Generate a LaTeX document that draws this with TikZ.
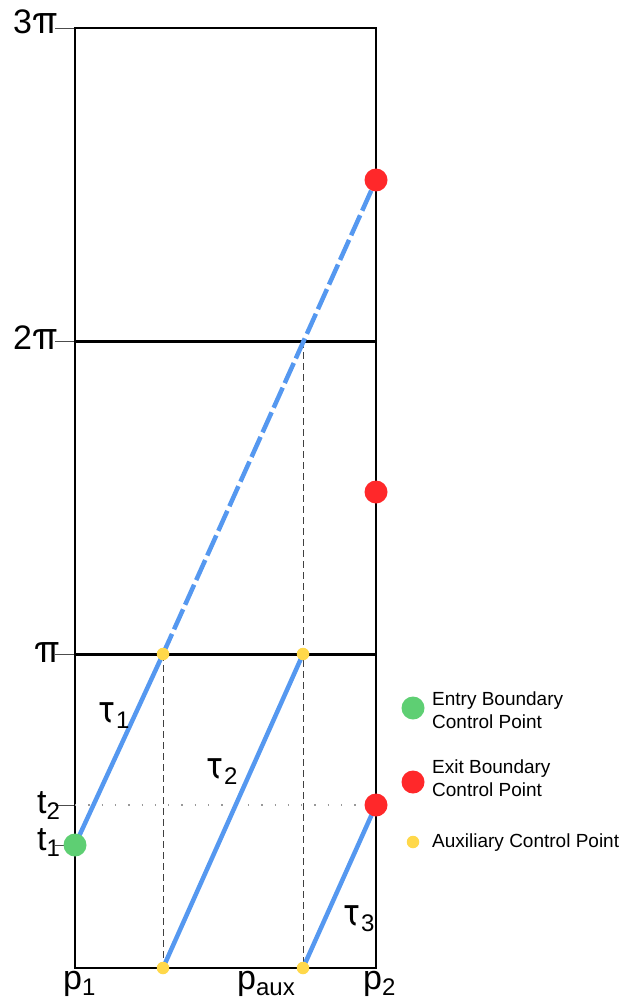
\documentclass[tikz,border=0pt]{standalone}
\usepackage{fontspec}
\setmainfont{Liberation Sans}
\newfontfamily\greekf[Scale=1.12]{TeX Gyre Heros}
\definecolor{trajblue}{RGB}{85,152,240}
\definecolor{greenpt}{RGB}{94,207,115}
\definecolor{redpt}{RGB}{255,40,42}
\definecolor{yellowpt}{RGB}{255,216,74}
\newcommand\bigf{\fontsize{34}{34}\selectfont}
\newcommand\subf{\fontsize{24}{24}\selectfont}
\newcommand\legf{\fontsize{19}{22.5}\selectfont}
\newcommand\withsub[2]{#1\raisebox{-6pt}{\subf #2}}
\tikzset{
  frame/.style={line width=2pt, black},
  level/.style={line width=3pt, black},
  tickline/.style={line width=0.9pt, black!70},
  traj/.style={line width=4.5pt, trajblue},
  trajdash/.style={traj, dash pattern=on 22pt off 5pt},
  guide/.style={line width=0.9pt, black!75, dash pattern=on 7pt off 4pt},
  guidedot/.style={line width=1.3pt, black!40, dash pattern=on 1.3pt off 12pt},
  entrypt/.style={circle, fill=greenpt, minimum size=23pt, inner sep=0pt},
  exitpt/.style={circle, fill=redpt, minimum size=23pt, inner sep=0pt},
  auxpt/.style={circle, fill=yellowpt, minimum size=12.5pt, inner sep=0pt},
  lab/.style={font=\bigf, inner sep=0pt, anchor=base west},
  legtext/.style={font=\legf, inner sep=0pt, align=left},
}
\begin{document}
\begin{tikzpicture}[x=1pt,y=-1pt]
\useasboundingbox (0,0) rectangle (622,1003);
% coordinates
\coordinate (tl) at (75,28);
\coordinate (br) at (376,968);
\coordinate (l2) at (75,341);  \coordinate (r2) at (376,341);
\coordinate (l1) at (75,654);  \coordinate (r1) at (376,654);
\coordinate (lt2) at (75,805);
\coordinate (cE) at (75,845);
\coordinate (cX1) at (376,805);
\coordinate (cX2) at (376,492);
\coordinate (cX3) at (376,180);
\coordinate (cA1) at (163,654);
\coordinate (cA2) at (303,654);
\coordinate (cA3) at (163,968);
\coordinate (cA4) at (303,968);
\coordinate (m2) at (303,341);
% ticks
\foreach \yy/\nm in {28/k3,341/k2,654/k1,805/kt2,845/kt1}{
  \coordinate (\nm a) at (55,\yy);
  \coordinate (\nm b) at (75,\yy);
  \draw[tickline] (\nm a) -- (\nm b);
}
% frame
\draw[frame] (tl) rectangle (br);
\draw[level] (l2) -- (r2);
\draw[level] (l1) -- (r1);
% guides
\draw[guide] (cA1) -- (cA3);
\draw[guide] (m2) -- (cA4);
\draw[guidedot] (lt2) -- (cX1);
% trajectories
\draw[traj] (cE) -- (cA1);
\draw[trajdash] (cA1) -- (cX3);
\draw[traj] (cA3) -- (cA2);
\draw[traj] (cA4) -- (cX1);
% points
\node[entrypt] (E) at (cE) {};
\node[exitpt] (X1) at (cX1) {};
\node[exitpt] (X2) at (cX2) {};
\node[exitpt] (X3) at (cX3) {};
\node[auxpt] (A1) at (cA1) {};
\node[auxpt] (A2) at (cA2) {};
\node[auxpt] (A3) at (cA3) {};
\node[auxpt] (A4) at (cA4) {};
% axis labels
\node[lab] (L3pi) at (13,34) {3{\greekf π}};
\node[lab] (L2pi) at (13,349) {2{\greekf π}};
\node[lab] (Lpi) at (34,662) {{\greekf π}};
\node[lab] (Lt2) at (37,813) {\withsub{t}{2}};
\node[lab] (Lt1) at (37,850) {\withsub{t}{1}};
\node[lab] (Lp1) at (63,989) {\withsub{p}{1}};
\node[lab] (Lpaux) at (237,989) {\withsub{p}{aux}};
\node[lab] (Lp2) at (363,989) {\withsub{p}{2}};
\node[lab] (T1) at (97,722) {\withsub{{\greekf τ}}{1}};
\node[lab] (T2) at (205,778) {\withsub{{\greekf τ}}{2}};
\node[lab] (T3) at (342,925) {\withsub{{\greekf τ}}{3}};
% legend
\node[entrypt] (LE) at (413,708) {};
\node[exitpt] (LX) at (413,782) {};
\node[auxpt] (LA) at (413,842) {};
\node[legtext, anchor=north west] (LEt) at (432,692) {Entry Boundary\\Control Point};
\node[legtext, anchor=north west] (LXt) at (432,760) {Exit Boundary\\Control Point};
\node[legtext, anchor=base west] (LAt) at (432,847) {Auxiliary Control Point};
\end{tikzpicture}
\end{document}
